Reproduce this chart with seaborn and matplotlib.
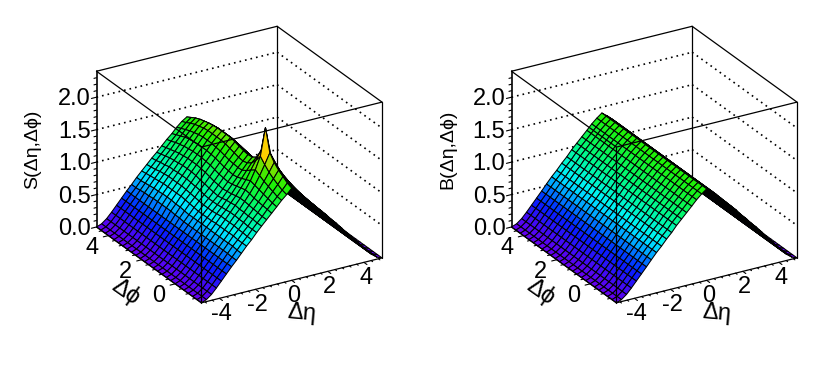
import numpy as np
import seaborn as sns
import matplotlib.pyplot as plt
from mpl_toolkits.mplot3d import proj3d

FIG_W, FIG_H = 830, 374
BOX = (209.8, 207.6, 172.3)
PHI_MIN, PHI_MAX = -1.571, 4.712
ETA_MIN, ETA_MAX = -5.0, 5.0
Z_MAX = 2.4

# eta nodes from -5 up to the ridge at 0, the far side mirrors them
eta_half = [-5.00, -4.72, -4.44, -4.17, -3.89, -3.61, -3.33, -3.06, -2.78, -2.50,
            -2.22, -1.94, -1.67, -1.39, -1.11, -0.83, -0.56, -0.28, 0.00]
phi_nodes = [-1.571, -1.309, -1.047, -0.785, -0.524, -0.262, 0.000, 0.262, 0.524,
             0.785, 1.047, 1.309, 1.571, 1.833, 2.094, 2.356, 2.618, 2.880, 3.142,
             3.403, 3.665, 3.927, 4.189, 4.451, 4.712]

# background is flat in phi, only one profile is needed
b_profile = [0.00, 0.03, 0.09, 0.17, 0.26, 0.35, 0.44, 0.53, 0.62, 0.70,
             0.79, 0.87, 0.96, 1.04, 1.12, 1.20, 1.28, 1.35, 1.41]

# signal, one row per eta node, columns follow phi_nodes
s_rows = [
    [0.00] * 25,
    [0.03] * 25,
    [0.09] * 25,
    [0.17] * 25,
    [0.26] * 25,
    [0.35] * 25,
    [0.44] * 25,
    [.52, .52, .53, .53, .53, .53, .53, .53, .53, .53, .53, .53, .53, .54, .54, .55, .55, .55, .55, .55, .54, .54, .53, .52, .52],
    [.61, .61, .62, .62, .62, .62, .62, .62, .62, .62, .62, .62, .62, .63, .64, .64, .65, .65, .65, .64, .64, .63, .62, .61, .61],
    [.70, .70, .70, .71, .71, .71, .71, .71, .70, .70, .70, .70, .71, .72, .73, .74, .74, .74, .74, .74, .73, .72, .71, .70, .69],
    [.78, .78, .79, .79, .80, .80, .80, .80, .79, .78, .78, .78, .79, .80, .81, .82, .83, .83, .83, .83, .82, .81, .79, .78, .77],
    [.87, .87, .87, .88, .88, .89, .89, .88, .87, .86, .86, .86, .87, .89, .90, .91, .92, .92, .92, .91, .91, .89, .88, .86, .85],
    [.95, .95, .96, .96, .97, .97, .98, .97, .96, .94, .93, .94, .95, .97, .98, 1.00, 1.01, 1.01, 1.01, 1.00, .99, .98, .96, .94, .92],
    [1.03, 1.03, 1.04, 1.05, 1.06, 1.07, 1.07, 1.06, 1.04, 1.03, 1.02, 1.03, 1.04, 1.06, 1.08, 1.09, 1.10, 1.10, 1.10, 1.09, 1.08, 1.06, 1.04, 1.02, 1.00],
    [1.11, 1.12, 1.13, 1.14, 1.15, 1.17, 1.18, 1.16, 1.14, 1.12, 1.11, 1.12, 1.13, 1.15, 1.17, 1.18, 1.19, 1.19, 1.19, 1.18, 1.17, 1.15, 1.13, 1.10, 1.08],
    [1.19, 1.20, 1.22, 1.24, 1.26, 1.28, 1.30, 1.27, 1.24, 1.21, 1.20, 1.21, 1.22, 1.24, 1.26, 1.27, 1.28, 1.28, 1.28, 1.27, 1.26, 1.24, 1.21, 1.18, 1.15],
    [1.27, 1.28, 1.31, 1.34, 1.37, 1.41, 1.45, 1.40, 1.34, 1.30, 1.29, 1.30, 1.31, 1.33, 1.35, 1.36, 1.37, 1.37, 1.37, 1.36, 1.34, 1.32, 1.29, 1.26, 1.23],
    [1.34, 1.36, 1.40, 1.44, 1.49, 1.56, 1.64, 1.53, 1.44, 1.39, 1.37, 1.38, 1.40, 1.42, 1.44, 1.45, 1.45, 1.45, 1.45, 1.44, 1.42, 1.40, 1.37, 1.33, 1.30],
    [1.42, 1.45, 1.50, 1.55, 1.62, 1.72, 2.06, 1.66, 1.51, 1.46, 1.45, 1.46, 1.48, 1.50, 1.52, 1.52, 1.52, 1.52, 1.51, 1.50, 1.48, 1.46, 1.43, 1.39, 1.35],
]

z_ticks_major = [0.0, 0.5, 1.0, 1.5, 2.0]
z_ticks_minor = [0.1, 0.2, 0.3, 0.4, 0.6, 0.7, 0.8, 0.9, 1.1, 1.2, 1.3, 1.4, 1.6, 1.7, 1.8, 1.9, 2.1, 2.2, 2.3]
phi_ticks_major = [0, 2, 4]
phi_ticks_minor = [-1.2, -0.8, -0.4, 0.4, 0.8, 1.2, 1.6, 2.4, 2.8, 3.2, 3.6, 4.4]
eta_ticks_major = [-4, -2, 0, 2, 4]
eta_ticks_minor = [-4.8, -4.4, -3.6, -3.2, -2.8, -2.4, -1.6, -1.2, -0.8, -0.4, 0.4, 0.8, 1.2, 1.6, 2.4, 2.8, 3.2, 3.6, 4.4, 4.8]

rainbow = sns.blend_palette(['#6400ee', '#0020ff', '#00f0ff', '#00f878', '#20f000', '#ffd000', '#ff5000'], as_cmap=True)

sns.set_theme(style='white')
plt.rcParams['font.family'] = ['Liberation Sans', 'DejaVu Sans']


def to_px(ax, x, y, z):
    X, Y, _ = proj3d.proj_transform(x, y, z, ax.get_proj())
    return ax.transData.transform((X, Y))


def label_at(ax, x, y, z, text, dx, dy, **kw):
    X, Y, _ = proj3d.proj_transform(x, y, z, ax.get_proj())
    ax.annotate(text, xy=(X, Y), xytext=(dx, -dy), textcoords='offset pixels',
                annotation_clip=False, color='black', **kw)


def segment(ax, a, b, **kw):
    ax.plot([a[0], b[0]], [a[1], b[1]], [a[2], b[2]], color='black', **kw)


def draw_panel(fig, shift_px, values, title):
    side = FIG_H
    ax = fig.add_axes([(shift_px + 53) / FIG_W, -23 / FIG_H, side / FIG_W, side / FIG_H],
                      projection='3d', proj_type='ortho', computed_zorder=False)
    ax.set_axis_off()
    ax.view_init(elev=25.1, azim=239.6)
    ax.set_xlim(ETA_MIN, ETA_MAX, view_margin=0)
    ax.set_ylim(PHI_MIN, PHI_MAX, view_margin=0)
    ax.set_zlim(0, Z_MAX, view_margin=0)

    # fit the box to the pixel corners of the picture
    ax.set_box_aspect(BOX, zoom=1)
    fig.canvas.draw()
    width = to_px(ax, ETA_MAX, PHI_MIN, 0)[0] - to_px(ax, ETA_MIN, PHI_MAX, 0)[0]
    ax.set_box_aspect(BOX, zoom=285.5 / width)
    fig.canvas.draw()
    left = to_px(ax, ETA_MIN, PHI_MAX, 0)
    pos = ax.get_position(original=True)
    ax.set_position([pos.x0 + (shift_px + 96.5 - left[0]) / FIG_W,
                     pos.y0 + ((FIG_H - 227) - left[1]) / FIG_H, pos.width, pos.height])
    fig.canvas.draw()

    eta_nodes = np.concatenate([eta_half, -np.array(eta_half[-2::-1])])
    grid = np.vstack([values, values[-2::-1]]).T
    ee, pp = np.meshgrid(eta_nodes, phi_nodes)

    e0, e1, p0, p1 = ETA_MIN, ETA_MAX, PHI_MIN, PHI_MAX

    # back walls, behind the surface
    back = dict(lw=0.9, zorder=0)
    for z in z_ticks_major[1:]:
        segment(ax, (e0, p1, z), (e1, p1, z), lw=1.2, ls=(0, (1, 2.4)), zorder=0)
        segment(ax, (e1, p1, z), (e1, p0, z), lw=1.2, ls=(0, (1, 2.4)), zorder=0)
    segment(ax, (e1, p1, 0), (e1, p1, Z_MAX), **back)
    segment(ax, (e0, p1, Z_MAX), (e1, p1, Z_MAX), **back)
    segment(ax, (e1, p1, Z_MAX), (e1, p0, Z_MAX), **back)
    segment(ax, (e1, p0, 0), (e1, p0, Z_MAX), **back)

    ax.plot_surface(ee, pp, grid, rstride=1, cstride=1, cmap=rainbow, vmin=0, vmax=2.1,
                    edgecolor='black', linewidth=0.75, shade=False, antialiased=True, zorder=1)

    # front of the box, on top of the surface
    front = dict(lw=0.9, zorder=3)
    segment(ax, (e0, p1, Z_MAX), (e0, p0, Z_MAX), **front)
    segment(ax, (e0, p0, Z_MAX), (e1, p0, Z_MAX), **front)
    segment(ax, (e0, p0, 0), (e0, p0, Z_MAX), **front)
    segment(ax, (e0, p1, 0), (e0, p1, Z_MAX), lw=1.2, zorder=3)
    segment(ax, (e0, p1, 0), (e0, p0, 0), **front)
    segment(ax, (e0, p0, 0), (e1, p0, 0), **front)

    # ticks
    tick = dict(lw=0.8, zorder=3)
    for z in z_ticks_major:
        segment(ax, (e0, p1, z), (e0 - 0.28, p1, z), **tick)
        label_at(ax, e0, p1, z, f'{z:.1f}', -6, 2, ha='right', va='center', fontsize=17)
    for z in z_ticks_minor:
        segment(ax, (e0, p1, z), (e0 - 0.14, p1, z), **tick)
    for p in phi_ticks_major:
        segment(ax, (e0, p, 0), (e0 - 0.28, p, 0), **tick)
        label_at(ax, e0, p, 0, str(p), -16, 12, ha='center', va='center', fontsize=17)
    for p in phi_ticks_minor:
        segment(ax, (e0, p, 0), (e0 - 0.14, p, 0), **tick)
    for e in eta_ticks_major:
        segment(ax, (e, p0, 0), (e, p0 - 0.18, 0), **tick)
        label_at(ax, e, p0, 0, str(e), 2, 16, ha='center', va='center', fontsize=17)
    for e in eta_ticks_minor:
        segment(ax, (e, p0, 0), (e, p0 - 0.09, 0), **tick)

    label_at(ax, e0, p1, 1.2, title, -64, 0, ha='center', va='center', rotation=90, fontsize=14)
    label_at(ax, e0, 2, 0, 'Δϕ', -16, 32, ha='center', va='center', rotation=-35, fontsize=17)
    label_at(ax, 0, p0, 0, 'Δη', 10, 33, ha='center', va='center', rotation=-5, fontsize=17)
    return ax


fig = plt.figure(figsize=(FIG_W / 100, FIG_H / 100), dpi=100)
draw_panel(fig, 0, s_rows, 'S(Δη,Δϕ)')
draw_panel(fig, 415, np.tile(b_profile, (25, 1)).T, 'B(Δη,Δϕ)')
fig.savefig('out.png', dpi=100)
